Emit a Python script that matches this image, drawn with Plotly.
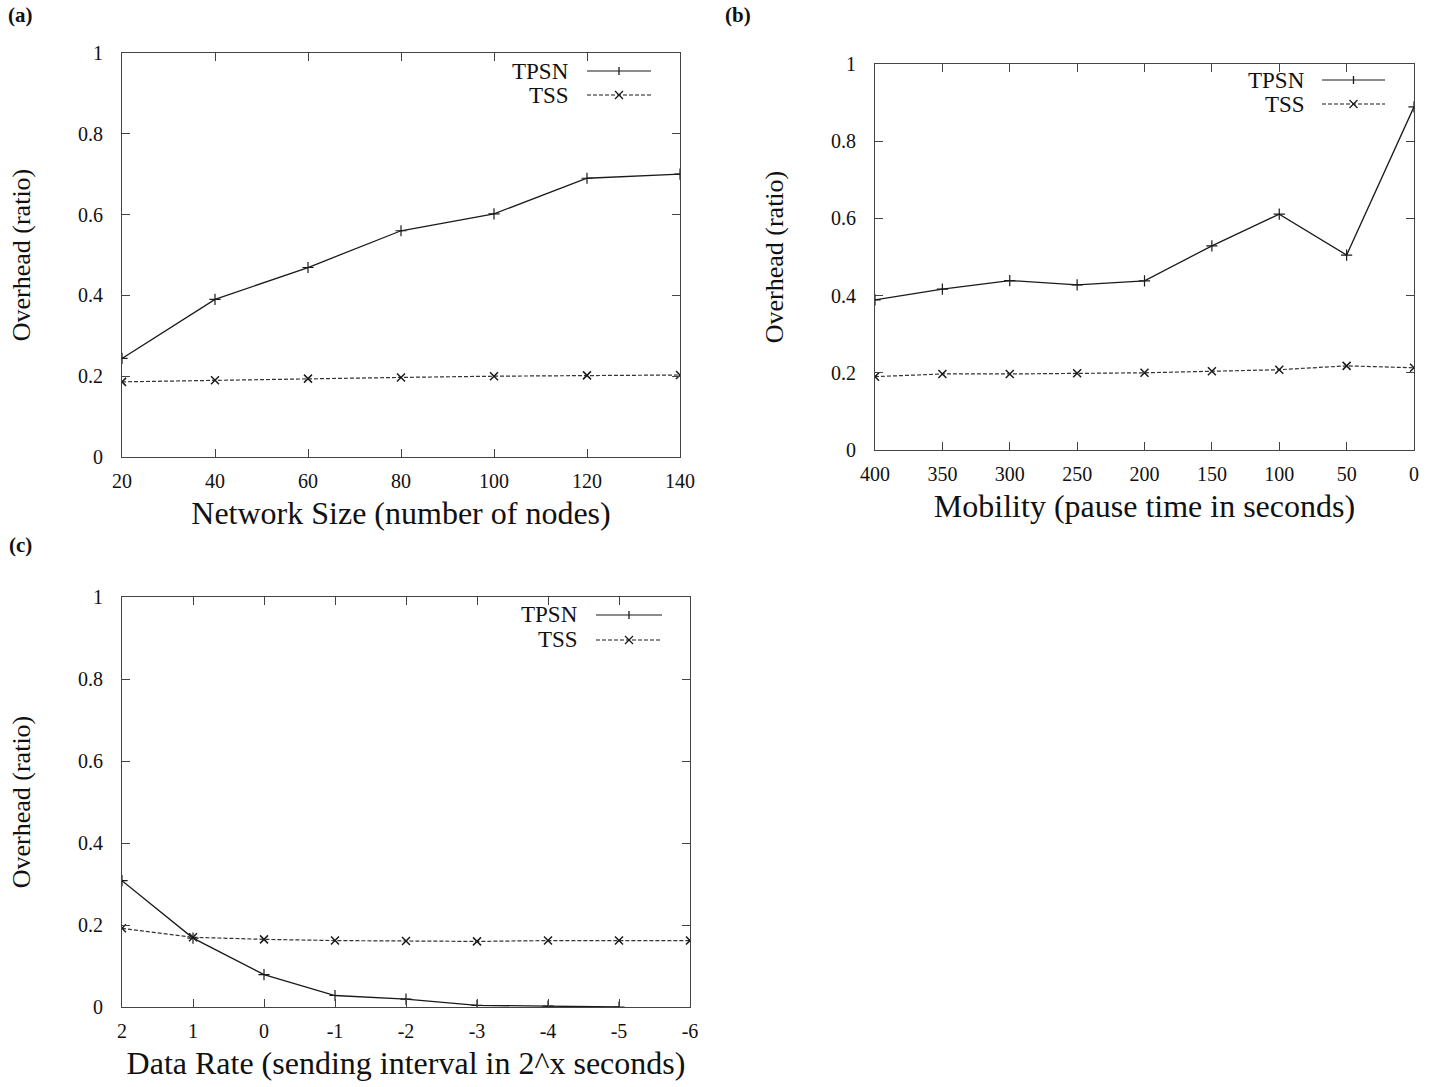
import plotly.graph_objects as go

# ---------------- data ----------------
net_size = [20, 40, 60, 80, 100, 120, 140]
tpsn_a = [0.244, 0.39, 0.469, 0.56, 0.602, 0.69, 0.70]
tss_a = [0.186, 0.19, 0.194, 0.197, 0.20, 0.202, 0.203]

pause_time = [400, 350, 300, 250, 200, 150, 100, 50, 0]
tpsn_b = [0.389, 0.417, 0.439, 0.428, 0.438, 0.529, 0.611, 0.505, 0.889]
tss_b = [0.19, 0.197, 0.197, 0.199, 0.20, 0.204, 0.208, 0.218, 0.213]

data_rate = [2, 1, 0, -1, -2, -3, -4, -5]
tpsn_c = [0.308, 0.168, 0.079, 0.028, 0.019, 0.004, 0.002, 0.0]
data_rate_tss = [2, 1, 0, -1, -2, -3, -4, -5, -6]
tss_c = [0.192, 0.17, 0.165, 0.162, 0.161, 0.16, 0.162, 0.162, 0.162]

series_names = ["TPSN", "TSS"]
y_ticks = [0, 0.2, 0.4, 0.6, 0.8, 1]
y_tick_text = ["0", "0.2", "0.4", "0.6", "0.8", "1"]
x_ticks_a = [20, 40, 60, 80, 100, 120, 140]
x_ticks_b = [400, 350, 300, 250, 200, 150, 100, 50, 0]
x_ticks_c = [2, 1, 0, -1, -2, -3, -4, -5, -6]
x_tick_text_c = ["2", "1", "0", "-1", "-2", "-3", "-4", "-5", "-6"]

FONT = "Liberation Serif, Times New Roman, serif"
W, H = 1438, 1087

def px_dom_x(a, b):
    return [a / W, b / W]

def px_dom_y(top, bottom):
    return [1 - bottom / H, 1 - top / H]

fig = go.Figure()

line_col = "#1a1a1a"
def add_pair(x1, y1, x2, y2, xa, ya):
    fig.add_trace(go.Scatter(
        x=x1, y=y1, mode="lines+markers", name=series_names[0],
        line=dict(color=line_col, width=1.3),
        marker=dict(symbol="cross-thin", size=8, line=dict(color=line_col, width=1.2)),
        xaxis=xa, yaxis=ya, showlegend=False, cliponaxis=True))
    fig.add_trace(go.Scatter(
        x=x2, y=y2, mode="lines+markers", name=series_names[1],
        line=dict(color="#333333", width=1.2, dash="4px,2px"),
        marker=dict(symbol="x-thin", size=8, line=dict(color=line_col, width=1.5)),
        xaxis=xa, yaxis=ya, showlegend=False, cliponaxis=True))

add_pair(net_size, tpsn_a, net_size, tss_a, "x", "y")
add_pair(pause_time, tpsn_b, pause_time, tss_b, "x2", "y2")
add_pair(data_rate, tpsn_c, data_rate_tss, tss_c, "x3", "y3")

axis_common = dict(
    showline=True, linecolor="#444444", linewidth=1.2, mirror="ticks",
    ticks="inside", ticklen=8, tickwidth=1, tickcolor="#444444",
    showgrid=False, zeroline=False, automargin=False,
    tickfont=dict(family=FONT, size=20, color="#111111"),
)
XT = dict(family=FONT, size=32, color="#111111")
YT = dict(family=FONT, size=26, color="#111111")

panels = {
    "a": dict(x=(122, 680), y=(53, 457)),
    "b": dict(x=(875, 1414), y=(64, 450)),
    "c": dict(x=(122, 690), y=(597, 1007)),
}

fig.update_layout(
    width=W, height=H,
    margin=dict(l=0, r=0, t=0, b=0, autoexpand=False),
    paper_bgcolor="white", plot_bgcolor="white",
    showlegend=False,
    font=dict(family=FONT, color="#111111"),
    xaxis=dict(domain=px_dom_x(*panels["a"]["x"]), anchor="y", range=[20, 140],
               tickvals=x_ticks_a, ticklabelstandoff=6,
               title=dict(text="Network Size (number of nodes)", font=XT, standoff=10),
               **axis_common),
    yaxis=dict(domain=px_dom_y(*panels["a"]["y"]), anchor="x", range=[0, 1],
               tickvals=y_ticks, ticktext=y_tick_text, ticklabelstandoff=14,
               title=dict(text="Overhead (ratio)", font=YT, standoff=39),
               **axis_common),
    xaxis2=dict(domain=px_dom_x(*panels["b"]["x"]), anchor="y2", range=[400, 0],
                tickvals=x_ticks_b, ticklabelstandoff=6,
                title=dict(text="Mobility (pause time in seconds)", font=XT, standoff=10),
                **axis_common),
    yaxis2=dict(domain=px_dom_y(*panels["b"]["y"]), anchor="x2", range=[0, 1],
                tickvals=y_ticks, ticktext=y_tick_text, ticklabelstandoff=14,
                title=dict(text="Overhead (ratio)", font=YT, standoff=39),
                **axis_common),
    xaxis3=dict(domain=px_dom_x(*panels["c"]["x"]), anchor="y3", range=[2, -6],
                tickvals=x_ticks_c, ticktext=x_tick_text_c, ticklabelstandoff=6,
                title=dict(text="Data Rate (sending interval in 2^x seconds)", font=XT, standoff=10),
                **axis_common),
    yaxis3=dict(domain=px_dom_y(*panels["c"]["y"]), anchor="x3", range=[0, 1],
                tickvals=y_ticks, ticktext=y_tick_text, ticklabelstandoff=14,
                title=dict(text="Overhead (ratio)", font=YT, standoff=39),
                **axis_common),
)

# panel labels
for txt, x, y in [("(a)", 20, 15), ("(b)", 738, 15), ("(c)", 20, 545)]:
    fig.add_annotation(text="<b>%s</b>" % txt, xref="paper", yref="paper",
                       x=x / W, y=1 - y / H, showarrow=False,
                       font=dict(family=FONT, size=21, color="#111111"),
                       xanchor="center", yanchor="middle")

# legends (gnuplot style: text then sample), positions in reference pixels
legend_px = [
    ("x", "y", "a", 571, 587, 651, 71, 95),
    ("x2", "y2", "b", 1307, 1322, 1385, 80, 104),
    ("x3", "y3", "c", 580, 596, 662, 615, 640),
]
for xa, ya, key, xt, x0, x1, y1, y2 in legend_px:
    (pl, pr), (ptop, pbot) = panels[key]["x"], panels[key]["y"]
    fx = lambda v: (v - pl) / (pr - pl)
    fy = lambda v: 1 - (v - ptop) / (pbot - ptop)
    xr = xa + " domain"
    yr = ya + " domain"
    xm = fx((x0 + x1) / 2)
    for i, (name, yy, dash) in enumerate([(series_names[0], fy(y1), "solid"),
                                          (series_names[1], fy(y2), "4px,2px")]):
        fig.add_annotation(text=name, xref=xr, yref=yr, x=fx(xt), y=yy, showarrow=False,
                           xanchor="right", yanchor="middle",
                           font=dict(family=FONT, size=23, color="#111111"))
        fig.add_shape(type="line", xref=xr, yref=yr, x0=fx(x0), x1=fx(x1), y0=yy, y1=yy,
                      line=dict(color=line_col, width=1.2, dash=dash))
        if i == 0:
            segs = [(0, -4, 0, 4)]
        else:
            segs = [(-4, -4, 4, 4), (-4, 4, 4, -4)]
        for (a0, b0, a1, b1) in segs:
            fig.add_shape(type="line", xref=xr, yref=yr, xsizemode="pixel", ysizemode="pixel",
                          xanchor=xm, yanchor=yy, x0=a0, x1=a1, y0=b0, y1=b1,
                          line=dict(color=line_col, width=1.3))

fig.write_html("out.html",
               config={"displayModeBar": False},
               post_script="document.body.style.margin='0';document.body.style.overflow='hidden';")
